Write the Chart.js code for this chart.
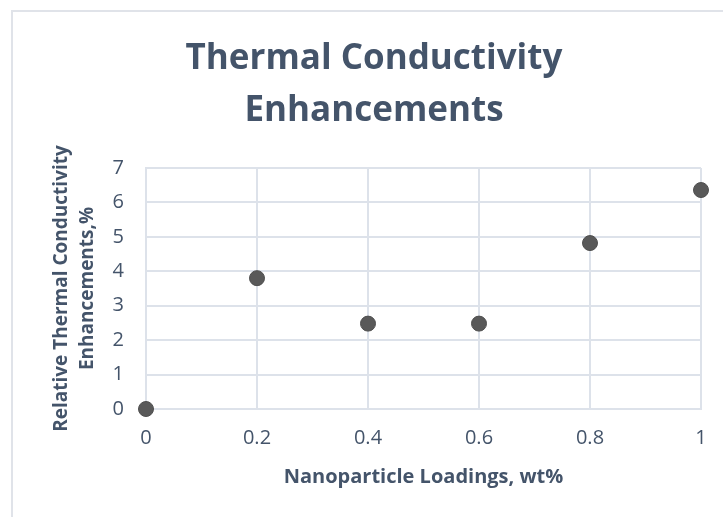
<!DOCTYPE html>
<html>
<head>
<meta charset="utf-8">
<script src="https://cdn.jsdelivr.net/npm/chart.js@4"></script>
<style>
  html, body { margin: 0; padding: 0; background: #ffffff; }
  #wrap { position: relative; width: 723px; height: 517px; overflow: hidden; }
  #frame { position: absolute; left: 11px; top: 10px; width: 800px; height: 600px;
           border-top: 2px solid #e0e3e9; border-left: 2px solid #e0e3e9; }
  canvas { position: absolute; left: 0; top: 0; }
</style>
</head>
<body>
<div id="wrap">
  <div id="frame"></div>
  <canvas id="chart" width="723" height="517"></canvas>
</div>
<script>
// Nanoparticle loading (wt%) and measured conductivity enhancement (%)
const loadings = [0, 0.2, 0.4, 0.6, 0.8, 1.0];
const enhancements = [0, 3.8, 2.48, 2.48, 4.82, 6.36];
const xTickValues = [0, 0.2, 0.4, 0.6, 0.8, 1];
const yTickValues = [0, 1, 2, 3, 4, 5, 6, 7];

const textColor = '#44546A';
const gridColor = '#dde2ea';
const fontFamily = '"Open Sans", Lato, sans-serif';

const points = loadings.map((x, i) => ({ x: x, y: enhancements[i] }));

new Chart(document.getElementById('chart'), {
  type: 'scatter',
  data: {
    datasets: [{
      label: 'Enhancement',
      data: points,
      pointRadius: 7.5,
      pointHoverRadius: 7.5,
      backgroundColor: '#595959',
      borderColor: '#4f4f4f',
      borderWidth: 1,
      clip: false
    }]
  },
  options: {
    responsive: false,
    animation: false,
    events: [],
    layout: { padding: { left: 25, right: 0, top: 0, bottom: 0 } },
    plugins: {
      legend: { display: false },
      tooltip: { enabled: false },
      title: {
        display: true,
        text: ['Thermal Conductivity', 'Enhancements'],
        color: textColor,
        font: { family: fontFamily, size: 35, weight: 'bold', lineHeight: 52 / 35 },
        padding: { top: 33, bottom: 31 }
      }
    },
    scales: {
      x: {
        type: 'linear',
        min: 0,
        max: 1,
        afterBuildTicks: (scale) => { scale.ticks = xTickValues.map(v => ({ value: v })); },
        afterFit: (scale) => { scale.height = 108; scale.paddingRight = 22; },
        grid: { color: gridColor, lineWidth: 2, drawTicks: false },
        border: { color: gridColor, width: 2 },
        ticks: {
          color: textColor,
          padding: 17,
          font: { family: fontFamily, size: 20 },
          callback: (v) => String(v)
        },
        title: {
          display: true,
          text: 'Nanoparticle Loadings, wt%',
          color: textColor,
          font: { family: fontFamily, size: 20, weight: 'bold' },
          padding: { top: 0, bottom: 28 }
        }
      },
      y: {
        type: 'linear',
        min: 0,
        max: 7,
        afterBuildTicks: (scale) => { scale.ticks = yTickValues.map(v => ({ value: v })); },
        afterFit: (scale) => { scale.width = 121; },
        grid: { color: gridColor, lineWidth: 2, drawTicks: false },
        border: { color: gridColor, width: 2 },
        ticks: {
          color: textColor,
          padding: 22,
          font: { family: fontFamily, size: 20 },
          callback: (v) => String(v)
        },
        title: {
          display: true,
          text: ['Relative Thermal Conductivity', 'Enhancements,%'],
          color: textColor,
          font: { family: fontFamily, size: 19, weight: 'bold', lineHeight: 26 / 19 },
          padding: { top: 24, bottom: 0 }
        }
      }
    }
  }
});
</script>
</body>
</html>
